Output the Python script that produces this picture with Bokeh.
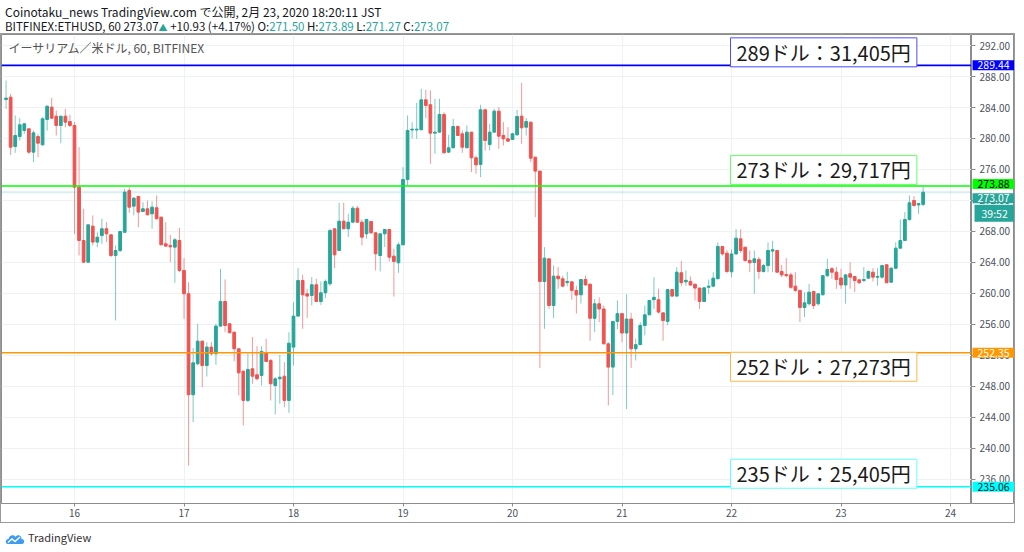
import pandas as pd
from bokeh.plotting import figure
from bokeh.models import (Range1d, FixedTicker, Span, Label, Div, LinearAxis,
                          ColumnDataSource, NumeralTickFormatter)
from bokeh.layouts import column, row
from bokeh.embed import file_html
from bokeh.resources import INLINE

# ---------------- data ----------------
START = "2020-02-15 09:00"          # first hourly candle (JST)
DAY0 = "2020-02-16 00:00"

OPEN = [285.03, 285.33, 278.97, 280.26, 281.03, 281.25, 278.24, 280.26, 279.18, 282.45,
        284.04, 282.88, 281.68, 282.88, 282.19,
        281.68, 273.72, 266.84, 264.04, 268.69, 266.63, 267.48, 268.35, 267.57, 264.90,
        265.55, 267.90, 273.29, 271.27, 272.52, 270.58, 270.93, 270.28, 271.06, 269.85,
        266.41, 266.20, 265.98, 266.84,
        262.97, 259.96, 246.93, 250.93, 253.85, 250.71, 253.08, 252.22, 255.79, 258.97,
        256.09, 255.00, 252.86, 249.98, 246.20, 250.28, 249.51, 249.42, 252.35, 251.36,
        248.13, 248.99, 249.33, 246.20,
        253.08, 257.08, 261.68, 259.96, 259.74, 261.12, 258.97, 260.09, 261.25, 268.35,
        265.55, 269.33, 268.35, 269.20, 271.01, 269.20, 267.70, 269.29, 267.83, 264.90,
        267.70, 268.26, 264.82, 263.96,
        266.28, 274.71, 281.10, 281.10, 281.12, 284.99, 284.35, 280.69, 280.82, 283.10,
        278.24, 278.80, 281.55, 280.60, 278.80, 280.82, 277.51, 276.65, 283.70, 279.23,
        280.82, 283.53, 280.39, 279.96,
        279.87, 280.47, 282.88, 281.46, 282.11, 277.59, 275.79, 261.55, 264.47, 258.45,
        262.24, 261.90, 261.40, 261.50, 260.40, 259.83, 261.80, 261.20, 256.80, 258.67,
        258.00, 253.50, 250.50, 256.40,
        257.40, 254.90, 256.70, 252.86, 253.40, 255.87, 257.25, 259.20, 259.20, 257.50,
        256.40, 260.50, 259.66, 262.67, 261.50, 261.55, 261.20, 260.70, 258.97, 260.80,
        260.95, 261.90, 266.07, 265.20,
        262.80, 265.10, 267.05, 265.98, 264.26, 264.00, 264.40, 262.84, 263.60, 265.47,
        265.55, 262.84, 262.45, 262.40, 260.95, 260.40, 258.20, 258.67, 260.26, 258.67,
        259.83, 262.30, 263.20, 262.75,
        262.00, 261.10, 262.54, 262.20, 261.76, 261.68, 261.98, 262.75, 262.10, 262.11,
        263.70, 261.46, 263.26, 265.85, 266.84, 269.55, 272.00, 271.43, 271.50]

HIGH = [287.48, 285.76, 282.97, 282.62, 281.98, 281.30, 281.03, 280.60, 282.75, 284.26,
        285.25, 283.61, 282.90, 283.83, 283.05,
        282.11, 278.88, 270.93, 268.90, 270.07, 267.90, 269.64, 269.20, 267.60, 266.20,
        268.05, 273.51, 273.72, 272.43, 272.55, 271.78, 272.00, 271.87, 272.65, 269.90,
        269.20, 267.57, 267.14, 268.47,
        264.56, 261.46, 252.98, 256.09, 253.90, 253.72, 253.72, 256.09, 263.18, 261.81,
        256.15, 255.10, 252.90, 250.00, 252.22, 254.37, 253.20, 253.20, 254.15, 251.57,
        249.20, 252.09, 251.14, 255.00,
        258.88, 263.27, 262.41, 260.60, 262.11, 261.90, 261.55, 261.81, 268.35, 268.40,
        271.70, 271.70, 270.28, 271.27, 271.27, 269.55, 269.64, 269.35, 267.90, 267.75,
        268.30, 268.30, 265.77, 266.60,
        276.30, 282.97, 282.10, 284.60, 286.41, 286.28, 286.20, 285.12, 285.12, 283.40,
        280.47, 282.54, 281.68, 281.03, 281.68, 280.85, 277.81, 284.35, 283.83, 281.89,
        283.83, 284.04, 282.11, 281.46,
        280.73, 283.70, 287.18, 282.62, 282.15, 277.65, 275.85, 265.98, 264.50, 263.60,
        263.40, 262.30, 262.80, 261.60, 261.00, 261.85, 262.30, 261.25, 259.30, 259.50,
        258.45, 253.70, 256.45, 259.10,
        257.45, 259.90, 257.50, 254.20, 256.30, 258.45, 259.15, 262.10, 260.60, 257.55,
        260.50, 260.55, 263.40, 264.20, 262.97, 262.20, 261.25, 260.75, 260.80, 261.80,
        262.75, 266.60, 266.10, 265.60,
        265.68, 268.30, 268.30, 266.00, 265.55, 265.55, 264.70, 263.80, 266.60, 266.80,
        265.60, 263.70, 264.56, 262.70, 262.75, 260.45, 260.17, 261.25, 260.30, 259.96,
        262.30, 264.47, 263.40, 263.40,
        263.18, 262.54, 264.04, 262.25, 261.80, 263.40, 262.97, 263.27, 263.27, 263.70,
        263.80, 263.40, 266.60, 269.55, 270.50, 272.65, 272.56, 271.70, 273.89]

LOW = [283.83, 277.89, 278.15, 279.74, 280.60, 278.02, 276.95, 277.59, 279.10, 281.03,
       282.54, 280.39, 279.40, 281.46, 281.46,
       267.70, 264.90, 264.00, 264.00, 266.20, 265.98, 266.41, 266.63, 264.69, 256.52,
       265.34, 267.85, 270.41, 270.07, 268.56, 270.50, 270.10, 268.35, 269.55, 266.20,
       266.05, 264.04, 261.38, 262.75,
       256.73, 237.80, 243.40, 250.71, 247.92, 249.29, 252.00, 250.80, 255.75, 255.00,
       254.88, 251.23, 246.84, 242.97, 245.98, 248.35, 248.78, 248.13, 251.14, 246.20,
       244.39, 245.77, 245.33, 244.60,
       250.71, 257.00, 255.44, 256.82, 258.45, 258.88, 258.54, 259.40, 261.00, 263.27,
       265.50, 268.30, 267.27, 269.10, 269.10, 266.20, 267.06, 267.70, 262.97, 262.84,
       265.98, 264.13, 259.60, 262.67,
       266.20, 273.94, 280.00, 279.96, 281.10, 282.62, 276.73, 278.02, 280.80, 278.10,
       278.15, 278.75, 280.30, 278.15, 278.75, 275.66, 275.44, 275.01, 278.45, 278.45,
       280.80, 278.67, 279.10, 279.61,
       279.85, 280.39, 279.31, 280.39, 276.95, 269.85, 250.37, 255.44, 258.02, 256.82,
       260.60, 260.80, 260.95, 259.20, 257.40, 258.70, 261.05, 253.90, 255.00, 256.30,
       253.45, 245.55, 246.90, 255.40,
       253.70, 245.10, 250.40, 251.35, 253.35, 254.60, 257.20, 258.00, 257.40, 253.90,
       255.90, 259.60, 259.60, 260.95, 261.00, 260.95, 259.10, 258.00, 258.90, 259.96,
       260.90, 261.85, 264.90, 262.60,
       262.10, 265.00, 265.25, 264.10, 262.75, 259.96, 261.90, 262.70, 262.75, 262.75,
       262.70, 262.10, 262.10, 260.60, 260.17, 256.30, 256.95, 258.45, 258.00, 258.45,
       259.75, 262.10, 261.90, 260.60,
       260.60, 258.67, 260.60, 260.17, 261.25, 261.45, 261.90, 261.55, 261.00, 261.90,
       261.38, 261.38, 263.20, 265.80, 266.80, 269.40, 271.20, 270.28, 271.27]

CLOSE = [285.21, 278.88, 280.39, 281.77, 281.89, 278.24, 280.73, 279.40, 282.54, 284.17,
         282.62, 281.68, 282.88, 282.11, 281.68,
         273.72, 266.84, 264.04, 268.86, 266.63, 267.27, 268.35, 267.70, 264.90, 265.55,
         268.00, 273.08, 271.14, 272.30, 270.50, 270.93, 270.15, 271.14, 269.64, 266.28,
         266.11, 266.02, 266.93, 262.97,
         259.96, 246.93, 251.05, 253.85, 250.71, 253.08, 252.22, 255.79, 258.97, 255.87,
         254.93, 252.86, 249.76, 246.20, 250.20, 249.33, 249.00, 252.52, 251.23, 248.35,
         248.99, 249.20, 246.20, 253.59,
         257.08, 261.68, 259.83, 259.66, 261.12, 258.97, 260.09, 261.55, 268.13, 264.99,
         269.33, 268.35, 269.20, 271.01, 269.20, 267.27, 269.55, 267.83, 265.12, 267.70,
         268.26, 264.69, 264.13, 266.28,
         274.71, 281.03, 281.20, 281.20, 284.99, 284.26, 280.69, 280.82, 283.10, 278.15,
         278.80, 281.55, 280.39, 278.88, 280.82, 277.51, 276.60, 283.70, 279.74, 280.82,
         283.53, 280.30, 279.96, 279.66,
         280.60, 282.84, 281.38, 282.19, 277.46, 275.79, 261.55, 264.56, 258.45, 262.24,
         261.90, 260.95, 261.55, 260.40, 259.80, 261.80, 261.10, 256.80, 258.67, 258.00,
         253.50, 250.50, 256.40, 257.40,
         254.90, 256.70, 252.86, 253.40, 255.87, 257.25, 259.10, 259.50, 257.60, 256.50,
         260.50, 259.66, 262.75, 261.40, 261.70, 261.10, 260.70, 258.97, 260.73, 260.95,
         261.98, 266.07, 265.10, 262.84,
         265.10, 267.14, 265.55, 264.26, 263.96, 264.47, 262.84, 263.60, 265.55, 265.64,
         262.75, 262.40, 262.30, 260.80, 260.40, 258.20, 258.80, 260.17, 258.45, 259.96,
         262.30, 263.10, 262.75, 261.80,
         261.10, 262.40, 262.10, 261.68, 261.38, 261.80, 262.84, 262.11, 262.20, 263.60,
         261.38, 263.26, 265.85, 266.84, 269.55, 271.70, 271.35, 271.60, 273.07]

DAY_LABELS = ["16", "17", "18", "19", "20", "21", "22", "23", "24"]
PRICE_TICKS = [236, 240, 244, 248, 252, 256, 260, 264, 268, 272, 276, 280, 284, 288, 292]

LEVELS = [289.44, 273.88, 252.35, 235.06]
LEVEL_TEXTS = ["289ドル：31,405円", "273ドル：29,717円", "252ドル：27,273円", "235ドル：25,405円"]
LEVEL_COLORS = ["#0000ff", "#00ff00", "#ff9800", "#00ffff"]
LEVEL_BOX_BORDERS = ["#4d4dff", "#66ff66", "#ffb74d", "#66ffff"]
LEVEL_TAG_TEXT = ["#ffffff", "#000000", "#ffffff", "#131722"]
LEVEL_TAG_OFFSETS = [0, 2, 0, 0]
LEVEL_BOX_OFFSETS = [13, 16, -14, 13]      # px, box centre relative to the line

LAST_PRICE = 273.07
COUNTDOWN = "39:52"
SYMBOL_TEXT = "イーサリアム／米ドル, 60, BITFINEX"

UP = "#26a69a"
DOWN = "#ef5350"
FONT = "Noto Sans CJK JP"
GRID = "#eef1f6"
EDGE = "#8c8c8c"

# ---------------- derived ----------------
times = pd.date_range(START, periods=len(CLOSE), freq="h")
base = pd.Timestamp(DAY0)
hours = [(t - base) / pd.Timedelta(hours=1) for t in times]
colors = [UP if c >= o else DOWN for o, c in zip(OPEN, CLOSE)]
src = ColumnDataSource(dict(x=hours, open=OPEN, high=HIGH, low=LOW, close=CLOSE,
                            top=[max(o, c) for o, c in zip(OPEN, CLOSE)],
                            bottom=[min(o, c) for o, c in zip(OPEN, CLOSE)],
                            color=colors))
day_ticks = [(pd.Timestamp(f"2020-02-{d}") - base) / pd.Timedelta(hours=1) for d in DAY_LABELS]

A_W, B_W, H, BOTTOM = 970, 43, 488, 19
FRAME_H = H - BOTTOM
yr = Range1d(232.90, 293.42)

# ---------------- main chart ----------------
p = figure(width=A_W, height=H,
           x_range=Range1d(-16.0, 196.6), y_range=yr,
           output_backend="svg", toolbar_location=None,
           y_axis_location=None,
           min_border_left=0, min_border_right=0, min_border_top=0, min_border_bottom=BOTTOM,
           outline_line_color=EDGE, background_fill_color="white",
           border_fill_color="white")

p.xgrid.ticker = FixedTicker(ticks=day_ticks)
p.ygrid.ticker = FixedTicker(ticks=PRICE_TICKS)
p.xgrid.grid_line_color = GRID
p.ygrid.grid_line_color = GRID

p.xaxis.ticker = FixedTicker(ticks=day_ticks)
p.xaxis.major_label_overrides = {t: lab for t, lab in zip(day_ticks, DAY_LABELS)}
p.xaxis.minor_tick_line_color = None
p.xaxis.major_tick_in = 0
p.xaxis.major_tick_out = 3
p.xaxis.major_label_standoff = 2
p.xaxis.axis_line_color = EDGE
p.xaxis.major_tick_line_color = EDGE
p.xaxis.major_label_text_font = FONT
p.xaxis.major_label_text_font_size = "10px"
p.xaxis.major_label_text_color = "#4c525e"

p.add_layout(Span(location=LAST_PRICE, dimension="width", line_color=UP,
                  line_alpha=0.18, line_width=2))

p.segment(x0="x", y0="low", x1="x", y1="high", source=src, line_color="color",
          line_alpha=0.6, line_width=1)
p.vbar(x="x", top="top", bottom="bottom", width=0.6, source=src,
       fill_color="color", line_color="color", line_width=1)

for lv, col in zip(LEVELS, LEVEL_COLORS):
    p.add_layout(Span(location=lv, dimension="width", line_color=col, line_width=1.6))

for lv, txt, bcol, off in zip(LEVELS, LEVEL_TEXTS, LEVEL_BOX_BORDERS, LEVEL_BOX_OFFSETS):
    p.add_layout(Label(x=729, y=lv, x_units="screen", y_units="data", y_offset=off,
                       text=txt, text_font=FONT, text_font_size="20px",
                       text_color="#1a1a1a", text_baseline="middle", text_align="left",
                       background_fill_color="white", border_line_color=bcol,
                       border_line_width=1, padding=(6, 0)))

p.add_layout(Label(x=7, y=FRAME_H - 13, x_units="screen", y_units="screen",
                   text=SYMBOL_TEXT, text_font=FONT, text_font_size="12px",
                   text_color="#555555", text_baseline="middle", text_align="left"))

# ---------------- price scale strip ----------------
q = figure(width=B_W, height=H, x_range=Range1d(0, B_W), y_range=yr,
           output_backend="svg", toolbar_location=None,
           x_axis_location=None, y_axis_location=None,
           min_border_left=0, min_border_right=0, min_border_top=0, min_border_bottom=BOTTOM,
           outline_line_color=EDGE, background_fill_color="white",
           border_fill_color="white")
q.xgrid.visible = False
q.ygrid.visible = False

yax = LinearAxis(fixed_location=0, ticker=FixedTicker(ticks=PRICE_TICKS),
                 formatter=NumeralTickFormatter(format="0.00"))
yax.minor_tick_line_color = None
yax.major_tick_in = 0
yax.major_tick_out = 4
yax.major_label_standoff = 4
yax.axis_line_color = EDGE
yax.major_tick_line_color = EDGE
yax.major_label_text_font = FONT
yax.major_label_text_font_size = "10px"
yax.major_label_text_color = "#4c525e"
q.add_layout(yax, "right")

for lv, col, tcol, off in zip(LEVELS, LEVEL_COLORS, LEVEL_TAG_TEXT, LEVEL_TAG_OFFSETS):
    q.add_layout(Label(x=1, y=lv, x_units="screen", y_units="data", y_offset=off,
                       text=f"{lv:.2f}", text_font=FONT, text_font_size="10.5px",
                       text_color=tcol, text_baseline="middle", text_align="left",
                       background_fill_color=col, padding=(5, 1)))
q.add_layout(Label(x=1, y=LAST_PRICE, x_units="screen", y_units="data",
                   y_offset=-6, text=f"{LAST_PRICE:.2f}", text_font=FONT,
                   text_font_size="10.5px", text_color="white", text_baseline="middle",
                   text_align="left", background_fill_color=UP, padding=(5, 1)))
q.add_layout(Label(x=3, y=LAST_PRICE, x_units="screen", y_units="data",
                   y_offset=-21, text=COUNTDOWN, text_font=FONT,
                   text_font_size="10.5px", text_color="white", text_baseline="middle",
                   text_align="left", background_fill_color=UP, padding=(7, 1)))

TEAL = UP
header = Div(width=1015, height=23, text=(
    f'<div style="font-family:\'{FONT}\';color:#131722;white-space:nowrap;">'
    '<div style="font-size:12px;line-height:14px;">'
    'Coinotaku_news TradingView.com で公開, 2月 23, 2020 18:20:11 JST</div>'
    '<div style="font-size:11.5px;line-height:14px;">'
    f'BITFINEX:ETHUSD, 60 273.07<span style="color:{TEAL};font-size:9px">▲</span>'
    f' +10.93 (+4.17%) O:<span style="color:{TEAL}">271.50</span>'
    f' H:<span style="color:{TEAL}">273.89</span>'
    f' L:<span style="color:{TEAL}">271.27</span>'
    f' C:<span style="color:{TEAL}">273.07</span></div></div>'))

footer = Div(width=1015, height=21, text=(
    f'<div style="font-family:\'{FONT}\';font-size:11px;color:#333;'
    'display:flex;align-items:center;margin-top:2px;">'
    '<svg width="20" height="12" viewBox="0 0 20 12" style="margin-right:3px">'
    '<path d="M3 12 C0 12 0 7 3.5 7 C4 3 9 2 10.5 5 C12 2 17 3 16.5 7 C20 7 20 12 17 12 Z" '
    'fill="#3d9bf2"/>'
    '<polyline points="3,10.5 7,7 10,9.5 15,5" stroke="white" fill="none" stroke-width="1.4"/>'
    '</svg>TradingView</div>'))

chart = row(p, q, spacing=0, styles={"border": "1px solid #9a9a9a"})
layout = column(header, chart, footer, spacing=0)
open("out.html", "w").write(file_html(layout, INLINE))
